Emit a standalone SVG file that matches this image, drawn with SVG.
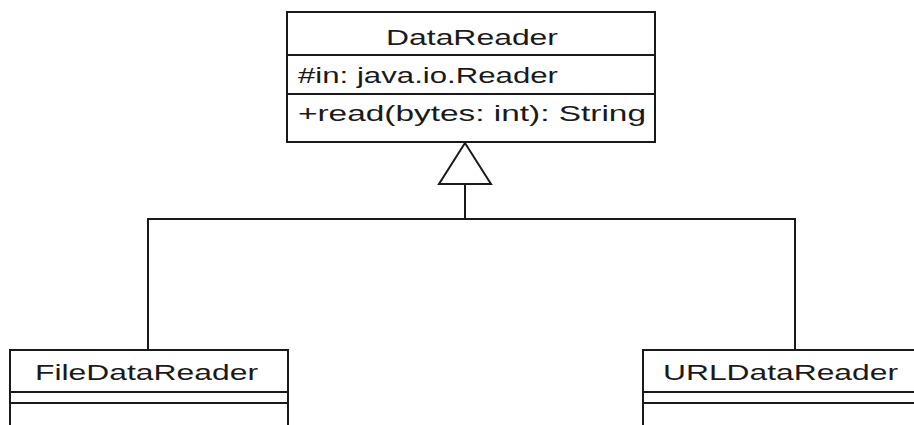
<svg xmlns="http://www.w3.org/2000/svg" width="914" height="425" viewBox="0 0 914 425">
<style>
.box{fill:#fff;stroke:#1a1a1a;stroke-width:2}
.ln{fill:none;stroke:#1a1a1a;stroke-width:2}
.t{font-family:"Liberation Sans",Arial,sans-serif;font-size:22px;fill:#1a1a1a}
</style>
<rect width="914" height="425" fill="#fff"/>
<g id="connectors">
<polyline class="ln" points="148,350 148,219 795,219 795,350"/>
<line class="ln" x1="465" y1="219" x2="465" y2="184"/>
<polygon class="ln" fill="#fff" points="465,143 439,184 491,184"/>
</g>
<g id="DataReader">
<rect class="box" x="287" y="12" width="368" height="130"/>
<line class="ln" x1="287" y1="55" x2="655" y2="55"/>
<line class="ln" x1="287" y1="94" x2="655" y2="94"/>
<text class="t" x="386" y="45" textLength="172" lengthAdjust="spacingAndGlyphs">DataReader</text>
<text class="t" x="298" y="83" textLength="260" lengthAdjust="spacingAndGlyphs">#in: java.io.Reader</text>
<text class="t" x="298" y="121" textLength="348" lengthAdjust="spacingAndGlyphs">+read(bytes: int): String</text>
</g>
<g id="FileDataReader">
<rect class="box" x="10" y="350" width="278" height="90"/>
<line class="ln" x1="10" y1="392" x2="288" y2="392"/>
<line class="ln" x1="10" y1="403" x2="288" y2="403"/>
<text class="t" x="35" y="380" textLength="223" lengthAdjust="spacingAndGlyphs">FileDataReader</text>
</g>
<g id="URLDataReader">
<rect class="box" x="643" y="350" width="290" height="90"/>
<line class="ln" x1="643" y1="392" x2="933" y2="392"/>
<line class="ln" x1="643" y1="403" x2="933" y2="403"/>
<text class="t" x="663" y="380" textLength="235" lengthAdjust="spacingAndGlyphs">URLDataReader</text>
</g>
</svg>
